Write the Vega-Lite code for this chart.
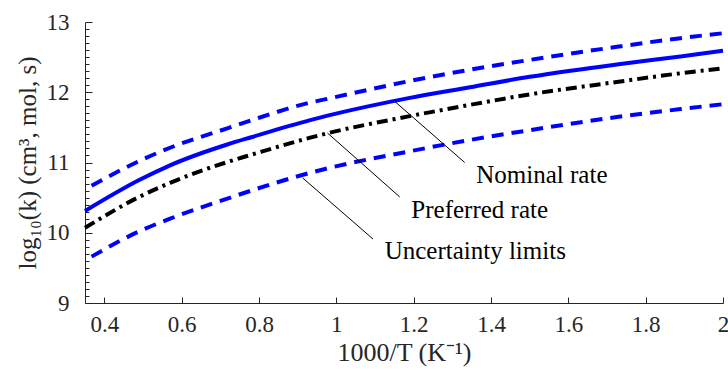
{
  "$schema": "https://vega.github.io/schema/vega-lite/v6.json",
  "autosize": {"type": "none"},
  "padding": {"left": 85, "top": 22, "right": 5, "bottom": 67},
  "width": 638,
  "height": 281,
  "config": {
    "view": {"stroke": null},
    "font": "Liberation Serif",
    "style": {"guide-label": {"font": "Liberation Serif"}, "guide-title": {"font": "Liberation Serif"}},
    "axis": {
      "domainColor": "#262626",
      "tickColor": "#262626",
      "labelColor": "#262626",
      "titleColor": "#262626",
      "labelFont": "Liberation Serif",
      "titleFont": "Liberation Serif",
      "labelFontSize": 23,
      "titleFontSize": 25,
      "titleFontWeight": "normal",
      "grid": false,
      "domainWidth": 1,
      "tickWidth": 1
    }
  },
  "resolve": {"axis": {"y": "independent"}},
  "datasets": {
    "curves": [
      {"series": "nominal", "x": 0.35, "y": 10.31},
      {"series": "nominal", "x": 0.49, "y": 10.75},
      {"series": "nominal", "x": 0.57, "y": 10.96},
      {"series": "nominal", "x": 0.72, "y": 11.26},
      {"series": "nominal", "x": 0.78, "y": 11.36},
      {"series": "nominal", "x": 0.93, "y": 11.60},
      {"series": "nominal", "x": 0.98, "y": 11.67},
      {"series": "nominal", "x": 1.19, "y": 11.92},
      {"series": "nominal", "x": 1.345, "y": 12.07},
      {"series": "nominal", "x": 1.5, "y": 12.22},
      {"series": "nominal", "x": 1.73, "y": 12.40},
      {"series": "nominal", "x": 1.89, "y": 12.51},
      {"series": "nominal", "x": 2.0, "y": 12.59},
      {"series": "preferred", "x": 0.35, "y": 10.07},
      {"series": "preferred", "x": 0.49, "y": 10.51},
      {"series": "preferred", "x": 0.57, "y": 10.71},
      {"series": "preferred", "x": 0.72, "y": 11.01},
      {"series": "preferred", "x": 0.78, "y": 11.11},
      {"series": "preferred", "x": 0.93, "y": 11.35},
      {"series": "preferred", "x": 0.98, "y": 11.42},
      {"series": "preferred", "x": 1.19, "y": 11.66},
      {"series": "preferred", "x": 1.345, "y": 11.82},
      {"series": "preferred", "x": 1.5, "y": 11.97},
      {"series": "preferred", "x": 1.73, "y": 12.15},
      {"series": "preferred", "x": 1.89, "y": 12.27},
      {"series": "preferred", "x": 2.0, "y": 12.34},
      {"series": "upper", "x": 0.367, "y": 10.67},
      {"series": "upper", "x": 0.49, "y": 11.02},
      {"series": "upper", "x": 0.57, "y": 11.21},
      {"series": "upper", "x": 0.72, "y": 11.49},
      {"series": "upper", "x": 0.78, "y": 11.60},
      {"series": "upper", "x": 0.93, "y": 11.85},
      {"series": "upper", "x": 0.98, "y": 11.91},
      {"series": "upper", "x": 1.19, "y": 12.16},
      {"series": "upper", "x": 1.345, "y": 12.32},
      {"series": "upper", "x": 1.5, "y": 12.46},
      {"series": "upper", "x": 1.73, "y": 12.65},
      {"series": "upper", "x": 1.89, "y": 12.77},
      {"series": "upper", "x": 2.0, "y": 12.84},
      {"series": "lower", "x": 0.367, "y": 9.66},
      {"series": "lower", "x": 0.49, "y": 10.02},
      {"series": "lower", "x": 0.57, "y": 10.20},
      {"series": "lower", "x": 0.72, "y": 10.49},
      {"series": "lower", "x": 0.78, "y": 10.60},
      {"series": "lower", "x": 0.93, "y": 10.85},
      {"series": "lower", "x": 0.98, "y": 10.92},
      {"series": "lower", "x": 1.19, "y": 11.16},
      {"series": "lower", "x": 1.345, "y": 11.32},
      {"series": "lower", "x": 1.5, "y": 11.46},
      {"series": "lower", "x": 1.73, "y": 11.65},
      {"series": "lower", "x": 1.89, "y": 11.76},
      {"series": "lower", "x": 2.0, "y": 11.83}
    ],
    "leaders": [
      {"x": 1.151, "y": 11.87, "x2": 1.332, "y2": 11.0},
      {"x": 0.977, "y": 11.42, "x2": 1.164, "y2": 10.51},
      {"x": 0.913, "y": 10.78, "x2": 1.095, "y2": 9.91}
    ],
    "labels": [
      {"x": 1.362, "y": 10.71, "text": "Nominal rate"},
      {"x": 1.194, "y": 10.21, "text": "Preferred rate"},
      {"x": 1.125, "y": 9.62, "text": "Uncertainty limits"}
    ]
  },
  "layer": [
    {
      "data": {"name": "curves"},
      "transform": [{"filter": "datum.series === 'upper'"}],
      "mark": {"type": "line", "color": "#0000ff", "strokeWidth": 4, "strokeDash": [12, 8], "strokeCap": "butt", "interpolate": "monotone"},
      "encoding": {
        "x": {"field": "x", "type": "quantitative",
          "scale": {"domain": [0.35, 2], "nice": false, "zero": false},
          "axis": {"title": "1000/T  (K⁻¹)", "titleFontSize": 26, "labelFont": "Liberation Serif", "titleFont": "Liberation Serif", "values": [0.4, 0.6, 0.8, 1, 1.2, 1.4, 1.6, 1.8, 2], "format": "~g", "tickSize": -6, "labelPadding": 16, "labelBaseline": "top", "titleBaseline": "middle", "titleY": 49, "labelFlush": false}},
        "y": {"field": "y", "type": "quantitative",
          "scale": {"domain": [9, 13], "nice": false, "zero": false},
          "axis": {"title": "log₁₀(k)  (cm³, mol, s)",
            "labelFont": "Liberation Serif", "titleFont": "Liberation Serif",
            "orient": "left",
            "values": [9, 10, 11, 12, 13],
            "format": "d",
            "tickSize": -7,
            "labelPadding": 23,
            "labelFlush": false,
            "labelOverlap": false,
            "titleX": -58,
            "titleBaseline": "middle"}}
      }
    },
    {
      "data": {"name": "curves"},
      "transform": [{"filter": "datum.series === 'lower'"}],
      "mark": {"type": "line", "color": "#0000ff", "strokeWidth": 4, "strokeDash": [12, 8], "strokeCap": "butt", "interpolate": "monotone"},
      "encoding": {
        "x": {"field": "x", "type": "quantitative"},
        "y": {"field": "y", "type": "quantitative",
          "axis": {"orient": "left", "title": null, "labels": false, "domain": false, "tickSize": -4,
            "values": [9.1, 9.2, 9.3, 9.4, 9.5, 9.6, 9.7, 9.8, 9.9, 10.1, 10.2, 10.3, 10.4, 10.5, 10.6, 10.7, 10.8, 10.9, 11.1, 11.2, 11.3, 11.4, 11.5, 11.6, 11.7, 11.8, 11.9, 12.1, 12.2, 12.3, 12.4, 12.5, 12.6, 12.7, 12.8, 12.9]}}
      }
    },
    {
      "data": {"name": "curves"},
      "transform": [{"filter": "datum.series === 'nominal'"}],
      "mark": {"type": "line", "color": "#0000ff", "strokeWidth": 4, "interpolate": "monotone"},
      "encoding": {"x": {"field": "x", "type": "quantitative"}, "y": {"field": "y", "type": "quantitative", "axis": null}}
    },
    {
      "data": {"name": "curves"},
      "transform": [{"filter": "datum.series === 'preferred'"}],
      "mark": {"type": "line", "color": "#000000", "strokeWidth": 4, "strokeDash": [11, 5, 3, 5], "strokeCap": "butt", "interpolate": "monotone"},
      "encoding": {"x": {"field": "x", "type": "quantitative"}, "y": {"field": "y", "type": "quantitative", "axis": null}}
    },
    {
      "data": {"name": "leaders"},
      "mark": {"type": "rule", "color": "#000000", "strokeWidth": 1},
      "encoding": {
        "x": {"field": "x", "type": "quantitative"},
        "y": {"field": "y", "type": "quantitative", "axis": null},
        "x2": {"field": "x2"},
        "y2": {"field": "y2"}
      }
    },
    {
      "data": {"name": "labels"},
      "mark": {"type": "text", "align": "left", "baseline": "alphabetic", "fontSize": 25, "font": "Liberation Serif", "color": "#000000"},
      "encoding": {
        "x": {"field": "x", "type": "quantitative"},
        "y": {"field": "y", "type": "quantitative", "axis": null},
        "text": {"field": "text"}
      }
    }
  ]
}
